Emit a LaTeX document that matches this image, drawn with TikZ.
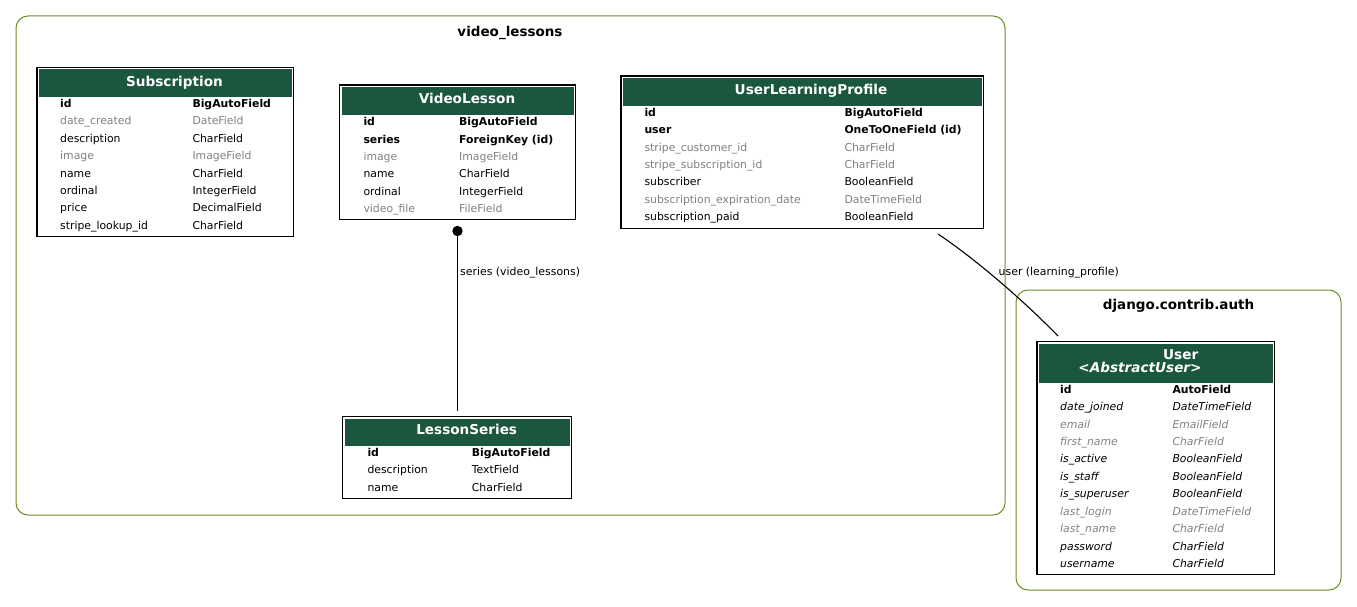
\documentclass[tikz,border=0pt]{standalone}
\usepackage{fontspec}
\setmainfont{DejaVu Sans}
\definecolor{hdrgreen}{RGB}{27,86,63}
\definecolor{clus}{RGB}{107,142,35}
\definecolor{fgraycol}{RGB}{128,128,128}
\tikzset{
  cluster/.style={draw=clus, line width=1pt, rounded corners=12pt},
  clabel/.style={font=\fontsize{13.5}{15}\selectfont\bfseries, inner sep=0, anchor=base},
  tblbox/.style={draw=black, line width=1.2pt, inner sep=0},
  hdr/.style={fill=hdrgreen},
  htext/.style={font=\fontsize{13.6}{15}\selectfont\bfseries, text=white, inner sep=0, anchor=base},
  hitext/.style={font=\fontsize{13.6}{15}\selectfont\bfseries\itshape, text=white, inner sep=0, anchor=base},
  fpk/.style={font=\fontsize{10.85}{12}\selectfont\bfseries, inner sep=0},
  fnorm/.style={font=\fontsize{10.85}{12}\selectfont, inner sep=0},
  fgry/.style={font=\fontsize{10.85}{12}\selectfont, text=fgraycol, inner sep=0},
  fitl/.style={font=\fontsize{10.85}{12}\selectfont\itshape, inner sep=0},
  fitlg/.style={font=\fontsize{10.85}{12}\selectfont\itshape, text=fgraycol, inner sep=0},
  elabel/.style={font=\fontsize{10.9}{12}\selectfont, inner sep=0, anchor=base west},
  conn/.style={draw=black, line width=1.1pt},
}
\newcommand\ertbox[6]{%
  \node[tblbox, minimum width={#4-#2}, minimum height={#5-#3}] (#1) at ({(#2+#4)/2},{(#3+#5)/2}) {};
  \fill[hdr] ({#2+2},{#3+2}) rectangle ({#4-2},{#6});
}
\newcommand\ertrows[5]{%
  \foreach \fa/\fb/\fs [count=\k from 0] in {#5} {
    \node[\fs, anchor=base west] (#1-n\k) at (#2, {#4+17.43*\k}) {\fa};
    \node[\fs, anchor=base west] (#1-t\k) at (#3, {#4+17.43*\k}) {\fb};
  }%
}
\begin{document}
\begin{tikzpicture}[x=1pt, y=-1pt]
\useasboundingbox (0,0) rectangle (1357,607);
% clusters
\draw[cluster] (16,16) rectangle (1005,515);
\node[clabel] (cl1) at (510,36.5) {video\_lessons};
\draw[cluster] (1016,290) rectangle (1341,590);
\node[clabel] (cl2) at (1178.5,309.5) {django.contrib.auth};

% Subscription
\ertbox{sub}{37}{67.5}{293.5}{236.5}{97.5}
\node[htext] (sub-h) at (174.5,86.5) {Subscription};
\ertrows{sub}{60}{192.3}{107.4}{id/BigAutoField/fpk, date\_created/DateField/fgry, description/CharField/fnorm, image/ImageField/fgry, name/CharField/fnorm, ordinal/IntegerField/fnorm, price/DecimalField/fnorm, stripe\_lookup\_id/CharField/fnorm}

% VideoLesson
\ertbox{vl}{339.5}{85}{575.5}{219.5}{115}
\node[htext] (vl-h) at (467,103.2) {VideoLesson};
\ertrows{vl}{363.3}{459}{125.6}{id/BigAutoField/fpk, series/ForeignKey (id)/fpk, image/ImageField/fgry, name/CharField/fnorm, ordinal/IntegerField/fnorm, video\_file/FileField/fgry}

% UserLearningProfile
\ertbox{ulp}{621}{76}{983.5}{228.5}{105.7}
\node[htext] (ulp-h) at (811,94.8) {UserLearningProfile};
\ertrows{ulp}{644.3}{844.3}{116.2}{id/BigAutoField/fpk, user/OneToOneField (id)/fpk, stripe\_customer\_id/CharField/fgry, stripe\_subscription\_id/CharField/fgry, subscriber/BooleanField/fnorm, subscription\_expiration\_date/DateTimeField/fgry, subscription\_paid/BooleanField/fnorm}

% LessonSeries
\ertbox{ls}{342.5}{416.5}{571.5}{498.5}{445.7}
\node[htext] (ls-h) at (466.7,434.8) {LessonSeries};
\ertrows{ls}{367.3}{471.7}{456.2}{id/BigAutoField/fpk, description/TextField/fnorm, name/CharField/fnorm}

% User
\ertbox{usr}{1037}{341.5}{1274.5}{574.5}{383.3}
\node[htext] (usr-h1) at (1180.7,359) {User};
\node[hitext] (usr-h2) at (1140,372.3) {<AbstractUser>};
\ertrows{usr}{1060}{1172.3}{393.2}{id/AutoField/fpk, date\_joined/DateTimeField/fitl, email/EmailField/fitlg, first\_name/CharField/fitlg, is\_active/BooleanField/fitl, is\_staff/BooleanField/fitl, is\_superuser/BooleanField/fitl, last\_login/DateTimeField/fitlg, last\_name/CharField/fitlg, password/CharField/fitl, username/CharField/fitl}

% connectors
\coordinate (vl-dot) at (457.5,231);
\coordinate (ls-top) at (457.5,411);
\draw[conn] (vl-dot) -- (ls-top);
\fill (vl-dot) circle (5.2);
\node[elabel] (e1) at (460,275.2) {series (video\_lessons)};

\coordinate (ulp-end) at (938,234);
\coordinate (usr-end) at (1058,336);
\draw[conn] (ulp-end) .. controls (968,254) and (1015,292) .. (usr-end);
\node[elabel] (e2) at (998.5,275.7) {user (learning\_profile)};
\end{tikzpicture}
\end{document}
